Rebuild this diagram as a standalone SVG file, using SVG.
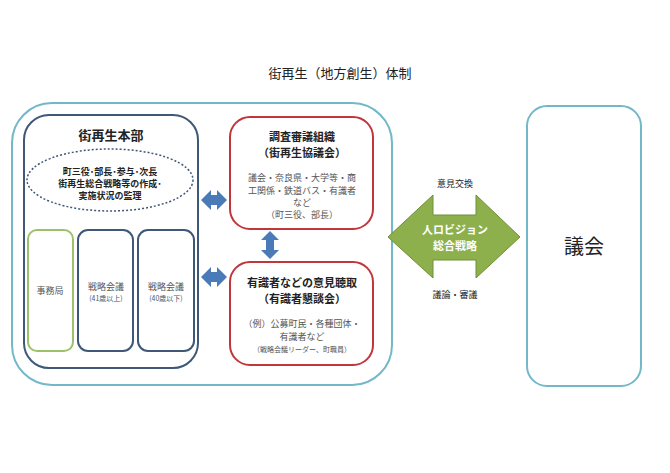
<svg xmlns="http://www.w3.org/2000/svg" width="670" height="473" viewBox="0 0 670 473">
<style>
text{font-family:"Noto Sans CJK JP","Noto Sans",sans-serif;fill:#222;text-anchor:middle}
.b{font-weight:bold}
.s{font-size:9px;fill:#555}
.xs{font-size:7px;fill:#555}
.lb{fill:none;stroke:#72b8c9;stroke-width:2}
.db{fill:none;stroke:#3f5877;stroke-width:2}
.rd{fill:#fff;stroke:#c0363a;stroke-width:2}
.ba{fill:#4a7ab8}
</style>
<rect width="670" height="473" fill="#fff"/>
<text x="340" y="78" font-size="13">街再生（地方創生）体制</text>
<g id="outer"><rect class="lb" x="12" y="103" width="380" height="282" rx="40"/></g>
<g id="honbu"><rect class="db" x="24" y="115" width="174" height="253" rx="25"/>
<text class="b" x="111" y="140" font-size="13">街再生本部</text></g>
<g id="kanri"><ellipse cx="110" cy="180" rx="83" ry="31" fill="none" stroke="#3f5877" stroke-width="1.5" stroke-dasharray="2,2"/>
<text x="110" y="175" font-size="9" class="b">町三役･部長･参与･次長</text>
<text x="110" y="187" font-size="9" class="b">街再生総合戦略等の作成･</text>
<text x="110" y="199" font-size="9" class="b">実施状況の監理</text></g>
<g id="jimu"><rect x="28" y="230" width="45" height="121" rx="9" fill="none" stroke="#9dc16b" stroke-width="2"/>
<text class="s" x="50" y="294">事務局</text></g>
<g id="senryaku1"><rect class="db" x="78" y="230" width="55" height="121" rx="10"/>
<text class="s" x="106" y="290">戦略会議</text><text class="xs" x="106" y="301">(41歳以上)</text></g>
<g id="senryaku2"><rect class="db" x="138" y="230" width="56" height="121" rx="10"/>
<text class="s" x="166" y="290">戦略会議</text><text class="xs" x="166" y="301">(40歳以下)</text></g>
<g id="kyogikai"><rect class="rd" x="230" y="117" width="143" height="112" rx="20"/>
<text class="b" x="302" y="141" font-size="11">調査審議組織</text>
<text class="b" x="302" y="157" font-size="11">（街再生協議会）</text>
<text class="s" x="302" y="181">議会・奈良県・大学等・商</text>
<text class="s" x="302" y="194">工関係・鉄道バス・有識者</text>
<text class="s" x="302" y="206">など</text>
<text class="s" x="302" y="218">（町三役、部長）</text></g>
<g id="kondankai"><rect class="rd" x="230" y="262" width="143" height="103" rx="20"/>
<text class="b" x="302" y="287" font-size="11">有識者などの意見聴取</text>
<text class="b" x="302" y="303" font-size="11">（有識者懇談会）</text>
<text class="s" x="302" y="327">（例）公募町民・各種団体・</text>
<text class="s" x="302" y="340">有識者など</text>
<text class="xs" x="302" y="352">（戦略会議リーダー、町職員）</text></g>
<g id="connectors">
<path class="ba" d="M201,200 L211,190 L211,195 L217,195 L217,190 L227,200 L217,210 L217,205 L211,205 L211,210 Z"/>
<path class="ba" d="M201,277 L211,267 L211,272 L217,272 L217,267 L227,277 L217,287 L217,282 L211,282 L211,287 Z"/>
<path class="ba" d="M270,231 L279,240 L274,240 L274,250 L279,250 L270,259 L261,250 L266,250 L266,240 L261,240 Z"/>
<path d="M388,237 L433,195 L433,215 L476,215 L476,195 L520,237 L476,278 L476,260 L433,260 L433,278 Z" fill="#8db04d" stroke="#6f8f3a" stroke-width="1"/>
<text x="455" y="234" font-size="11" class="b" style="fill:#fff">人ロビジョン</text>
<text x="455" y="250" font-size="11" class="b" style="fill:#fff">総合戦略</text>
<text x="455" y="187" font-size="9">意見交換</text>
<text x="455" y="298" font-size="9">議論・審議</text>
</g>
<g id="gikai"><rect class="lb" x="527" y="106" width="114" height="280" rx="20"/>
<text x="584" y="254" font-size="20">議会</text></g>
</svg>
